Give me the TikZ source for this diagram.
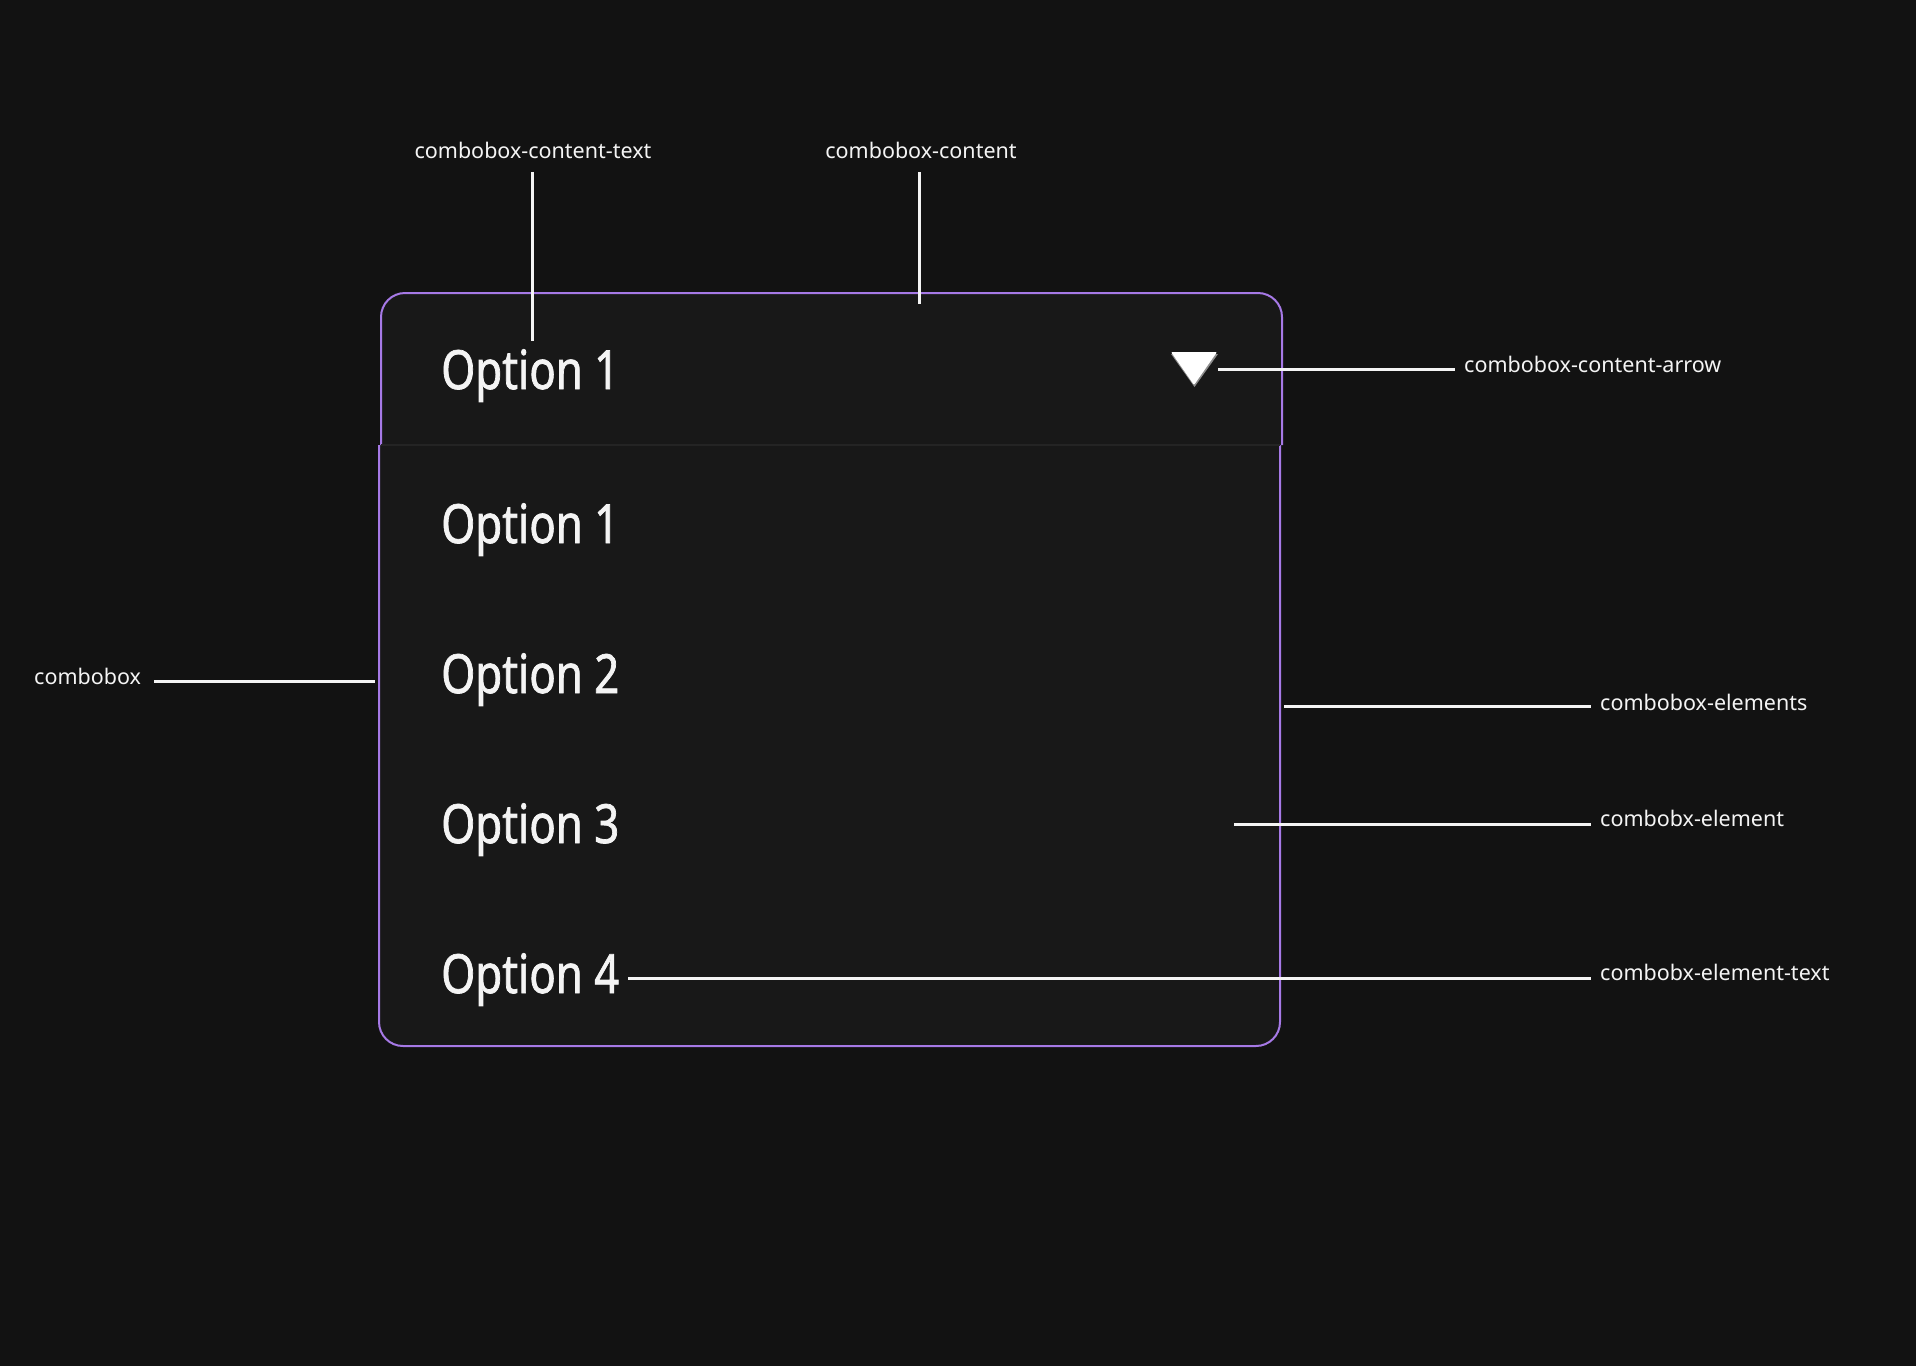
\documentclass[tikz,border=0pt]{standalone}
\usepackage{fontspec}
\setmainfont{Noto Sans}
\newfontfamily\optfont[FakeStretch=0.81,FakeBold=1.3]{Noto Sans}
\definecolor{bg}{HTML}{121212}
\definecolor{boxfill}{HTML}{181818}
\definecolor{sepline}{HTML}{242424}
\definecolor{violet}{HTML}{A679E6}
\definecolor{txt}{HTML}{F4F4F4}
\tikzset{
  optlabel/.style={anchor=base west, inner sep=0pt, text=txt, font=\optfont\fontsize{54}{60}\selectfont},
  callout/.style={anchor=west, inner sep=0pt, text=txt, font=\fontsize{21.5}{24}\selectfont},
  calloutc/.style={anchor=center, inner sep=0pt, text=txt, font=\fontsize{21.5}{24}\selectfont},
  leader/.style={draw=txt, line width=3pt},
  frame/.style={draw=violet, line width=2pt, fill=boxfill, rounded corners=24pt}
}
\begin{document}
\begin{tikzpicture}[x=1pt,y=-1pt]
\fill[bg] (0,0) rectangle (1916,1366);
\useasboundingbox (0,0) rectangle (1916,1366);

% list part
\draw[frame] (379,445) -- (379,1046) -- (1280,1046) -- (1280,445);
% header part
\draw[frame] (381,445) -- (381,293) -- (1282,293) -- (1282,445);
\draw[sepline, line width=2pt] (381,445) -- (1280,445);

% texts in the box
\node[optlabel] (hdr) at (441,389) {Option 1};
\node[optlabel] (o1) at (441,543) {Option 1};
\node[optlabel] (o2) at (441,693) {Option 2};
\node[optlabel] (o3) at (441,843) {Option 3};
\node[optlabel] (o4) at (441,993) {Option 4};

% arrow triangle
\fill[black!45] (1171,354) -- (1218,354) -- (1194.5,387) -- cycle;
\fill[white, rounded corners=1pt] (1171,352) -- (1217,352) -- (1194,385) -- cycle;
\coordinate (tri) at (1218,369);

% callout labels
\node[calloutc] (lcct) at (533,150) {combobox-content-text};
\node[calloutc] (lcc) at (921,150) {combobox-content};
\node[callout] (lcca) at (1464,364) {combobox-content-arrow};
\node[callout] (lcb) at (34,676) {combobox};
\node[callout] (lce) at (1600,702) {combobox-elements};
\node[callout] (lel) at (1600,818) {combobx-element};
\node[callout] (let) at (1600,972) {combobx-element-text};

% leader endpoints
\coordinate (a1) at (532,172);
\coordinate (a2) at (532,341);
\coordinate (b1) at (919,172);
\coordinate (b2) at (919,304);
\coordinate (c2) at (1455,369);
\coordinate (d1) at (154,681);
\coordinate (d2) at (375,681);
\coordinate (e1) at (1284,706);
\coordinate (e2) at (1591,706);
\coordinate (f1) at (1234,824);
\coordinate (f2) at (1591,824);
\coordinate (g1) at (628,978);
\coordinate (g2) at (1591,978);

\draw[leader] (a1) -- (a2);
\draw[leader] (b1) -- (b2);
\draw[leader] (tri) -- (c2);
\draw[leader] (d1) -- (d2);
\draw[leader] (e1) -- (e2);
\draw[leader] (f1) -- (f2);
\draw[leader] (g1) -- (g2);
\end{tikzpicture}
\end{document}
